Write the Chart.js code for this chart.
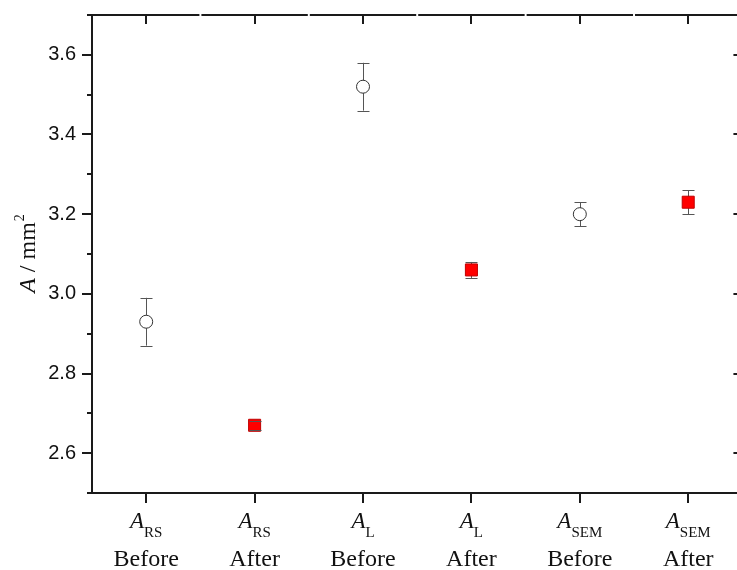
<!DOCTYPE html>
<html><head><meta charset="utf-8">
<script src="https://cdn.jsdelivr.net/npm/chart.js@4"></script>
<style>html,body{margin:0;padding:0;overflow:hidden;background:#fff;width:737px;height:570px}canvas{display:block}</style>
</head><body><canvas id="c" width="737" height="570" style="width:737px;height:570px"></canvas>
<script>
const symbols = ['RS','RS','L','L','SEM','SEM'];
const states = ['Before','After','Before','After','Before','After'];
const categories = symbols.map((s,i)=>'A' + s + ' ' + states[i]);
const beforeValues = [2.93, null, 3.52, null, 3.20, null];
const beforeErrors = [0.06, null, 0.06, null, 0.03, null];
const afterValues  = [null, 2.67, null, 3.06, null, 3.23];
const afterErrors  = [null, 0.011, null, 0.02, null, 0.03];
const yMin = 2.5, yMax = 3.7, yStep = 0.1, yLabelStep = 0.2;
const xMin = -0.5, xMax = 5.45, xFrameMax = 5.5; // frame's right edge lies just past the visible canvas
const yTitleMain = 'A', yTitleRest = ' / mm', yTitleSup = '2';

const SERIF = '"Liberation Serif", "Times New Roman", serif';
const SANS = '"Liberation Sans", Arial, sans-serif';
const AXIS = '#1a1a1a';
const ERR = '#555555';

function isMajor(v){ const r = v / yLabelStep; return Math.abs(r - Math.round(r)) < 1e-6; }
const toPoints = arr => arr.map((v, i) => v == null ? null : { x: i, y: v }).filter(p => p);
const toErrs = (vals, errs) => vals.map((v, i) => v == null ? null : { x: i, y: v, e: errs[i] }).filter(p => p);

const errorBars = {
  id: 'errorBars',
  beforeDatasetsDraw(chart){
    const ctx = chart.ctx, ys = chart.scales.y, xs = chart.scales.x;
    ctx.save(); ctx.strokeStyle = ERR; ctx.lineWidth = 1;
    chart.data.datasets.forEach(ds => {
      ds.errs.forEach(p => {
        const x = Math.round(xs.getPixelForValue(p.x)) + 0.5;
        ctx.beginPath(); ctx.moveTo(x, ys.getPixelForValue(p.y + p.e)); ctx.lineTo(x, ys.getPixelForValue(p.y - p.e)); ctx.stroke();
      });
    });
    ctx.restore();
  },
  afterDatasetsDraw(chart){
    const ctx = chart.ctx, ys = chart.scales.y, xs = chart.scales.x;
    ctx.save(); ctx.strokeStyle = ERR; ctx.lineWidth = 1;
    chart.data.datasets.forEach(ds => {
      ds.errs.forEach(p => {
        const x = Math.round(xs.getPixelForValue(p.x)) + 0.5;
        [p.y + p.e, p.y - p.e].forEach(t => {
          const y = Math.round(ys.getPixelForValue(t)) + 0.5;
          ctx.beginPath(); ctx.moveTo(x - 6, y); ctx.lineTo(x + 6, y); ctx.stroke();
        });
      });
    });
    ctx.restore();
  }
};

const frame = {
  id: 'frame',
  afterDraw(chart){
    const ctx = chart.ctx, a = chart.chartArea, xs = chart.scales.x, ys = chart.scales.y;
    const rightEdge = xs.getPixelForValue(xFrameMax);
    ctx.save();
    ctx.strokeStyle = AXIS; ctx.lineWidth = 2; ctx.lineCap = 'butt';
    ctx.beginPath(); ctx.moveTo(a.left, a.top - 1); ctx.lineTo(a.left, a.bottom + 1); ctx.stroke();
    ctx.beginPath(); ctx.moveTo(a.left - 1, a.bottom); ctx.lineTo(rightEdge + 1, a.bottom); ctx.stroke();
    ctx.beginPath(); ctx.moveTo(rightEdge, a.top); ctx.lineTo(rightEdge, a.bottom); ctx.stroke();
    for (let i = 0; i < categories.length; i++) {
      const l = i === 0 ? a.left - 1 : xs.getPixelForValue(i - 0.5) + 1;
      const r = i === categories.length - 1 ? rightEdge + 1 : xs.getPixelForValue(i + 0.5) - 1;
      ctx.beginPath(); ctx.moveTo(l, a.top); ctx.lineTo(r, a.top); ctx.stroke();
    }
    ys.ticks.forEach(t => {
      const y = Math.round(ys.getPixelForValue(t.value));
      const maj = isMajor(t.value);
      ctx.beginPath(); ctx.moveTo(a.left - (maj ? 10 : 5), y); ctx.lineTo(a.left, y); ctx.stroke();
      if (maj) { ctx.beginPath(); ctx.moveTo(rightEdge, y); ctx.lineTo(rightEdge - 9, y); ctx.stroke(); }
    });
    for (let i = 0; i < categories.length; i++) {
      const x = Math.round(xs.getPixelForValue(i));
      ctx.beginPath(); ctx.moveTo(x, a.bottom); ctx.lineTo(x, a.bottom + 10); ctx.stroke();
      ctx.beginPath(); ctx.moveTo(x, a.top); ctx.lineTo(x, a.top + 9); ctx.stroke();
    }
    ctx.fillStyle = '#111'; ctx.textBaseline = 'alphabetic'; ctx.textAlign = 'left';
    for (let i = 0; i < categories.length; i++) {
      const x = xs.getPixelForValue(i);
      ctx.font = 'italic 23px ' + SERIF; const wA = ctx.measureText('A').width;
      ctx.font = '15px ' + SERIF; const wS = ctx.measureText(symbols[i]).width;
      const s = x - (wA + wS) / 2;
      ctx.font = 'italic 23px ' + SERIF; ctx.fillText('A', s, a.bottom + 35);
      ctx.font = '15px ' + SERIF; ctx.fillText(symbols[i], s + wA, a.bottom + 44);
      ctx.font = '24px ' + SERIF; ctx.textAlign = 'center';
      ctx.fillText(states[i], x, a.bottom + 73);
      ctx.textAlign = 'left';
    }
    ctx.translate(35, (a.top + a.bottom) / 2); ctx.rotate(-Math.PI / 2);
    ctx.font = 'italic 24px ' + SERIF; const w1 = ctx.measureText(yTitleMain).width;
    ctx.font = '24px ' + SERIF; const w2 = ctx.measureText(yTitleRest).width;
    ctx.font = '14px ' + SERIF; const w3 = ctx.measureText(yTitleSup).width;
    let sx = -(w1 + w2 + w3) / 2;
    ctx.font = 'italic 24px ' + SERIF; ctx.fillText(yTitleMain, sx, 0); sx += w1;
    ctx.font = '24px ' + SERIF; ctx.fillText(yTitleRest, sx, 0); sx += w2;
    ctx.font = '14px ' + SERIF; ctx.fillText(yTitleSup, sx + 1, -11);
    ctx.restore();
  }
};

new Chart(document.getElementById('c'), {
  type: 'scatter',
  data: {
    datasets: [
      { label: 'Before', data: toPoints(beforeValues), errs: toErrs(beforeValues, beforeErrors),
        pointStyle: 'circle', pointRadius: 6.5, pointBackgroundColor: '#ffffff', pointBorderColor: '#333333', pointBorderWidth: 1 },
      { label: 'After', data: toPoints(afterValues), errs: toErrs(afterValues, afterErrors),
        pointStyle: 'rect', pointRadius: 8.5, pointBackgroundColor: '#ff0000', pointBorderColor: '#c00000', pointBorderWidth: 1 }
    ]
  },
  options: {
    responsive: false, animation: false, devicePixelRatio: 1,
    layout: { autoPadding: false, padding: { top: 15, right: 0, left: 0, bottom: 0 } },
    plugins: { legend: { display: false }, tooltip: { enabled: false } },
    scales: {
      x: { type: 'linear', min: xMin, max: xMax,
        grid: { display: false, drawTicks: false }, border: { display: false },
        ticks: { display: false },
        afterFit(s){ s.height = 77; s.paddingLeft = 0; s.paddingRight = 0; } },
      y: { min: yMin, max: yMax,
        grid: { display: false, drawTicks: false }, border: { display: false },
        ticks: { stepSize: yStep, padding: 16, color: '#111', font: { family: SANS, size: 20 },
          callback: v => isMajor(v) ? v.toFixed(1) : '' },
        afterFit(s){ s.width = 92; s.paddingTop = 0; s.paddingBottom = 0; } }
    }
  },
  plugins: [errorBars, frame]
});
</script></body></html>
